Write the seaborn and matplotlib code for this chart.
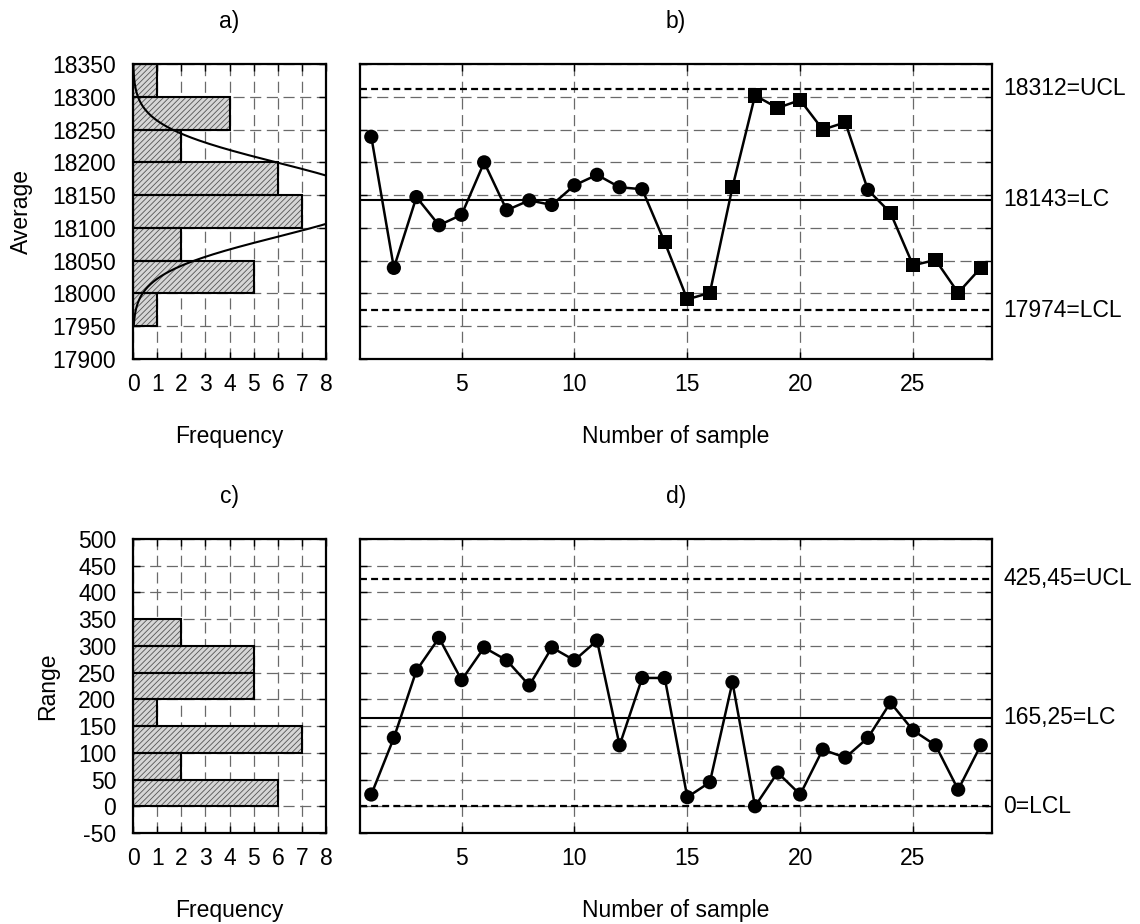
import numpy as np
import pandas as pd
import matplotlib
matplotlib.use('Agg')
import matplotlib.pyplot as plt
import seaborn as sns

# sample numbers and the values
samples = list(range(1, 29))
averages = [18239, 18039, 18147, 18104, 18120, 18200, 18127, 18142, 18135, 18165,
            18181, 18162, 18159, 18078, 17991, 18001, 18162, 18302, 18283, 18295,
            18250, 18261, 18158, 18123, 18043, 18051, 18001, 18039]
avg_marker = ['o', 'o', 'o', 'o', 'o', 'o', 'o', 'o', 'o', 'o',
              'o', 'o', 'o', 's', 's', 's', 's', 's', 's', 's',
              's', 's', 'o', 's', 's', 's', 's', 's']
ranges = [22, 128, 254, 315, 236, 297, 273, 226, 297, 273,
          310, 114, 240, 240, 17, 45, 232, 0, 63, 22,
          106, 91, 128, 194, 142, 114, 31, 114]

# histograms (frequency per class)
avg_edges = [17950, 18000, 18050, 18100, 18150, 18200, 18250, 18300, 18350]
avg_freq = [1, 5, 2, 7, 6, 2, 4, 1]
rng_edges = [0, 50, 100, 150, 200, 250, 300, 350]
rng_freq = [6, 2, 7, 1, 5, 5, 2]

# control limits
avg_ucl, avg_lc, avg_lcl = 18312, 18143, 17974
avg_limit_labels = ['18312=UCL', '18143=LC', '17974=LCL']
rng_ucl, rng_lc, rng_lcl = 425.45, 165.25, 0
rng_limit_labels = ['425,45=UCL', '165,25=LC', '0=LCL']

sns.set_style('ticks')
plt.rcParams['font.family'] = ['Liberation Sans', 'DejaVu Sans']
plt.rcParams['font.size'] = 16.5
plt.rcParams['axes.unicode_minus'] = False
plt.rcParams['hatch.linewidth'] = 0.6
plt.rcParams['lines.scale_dashes'] = False
plt.rcParams['text.color'] = 'black'
plt.rcParams['axes.labelcolor'] = 'black'
plt.rcParams['xtick.color'] = 'black'
plt.rcParams['ytick.color'] = 'black'

FS = 16.5
fig = plt.figure(figsize=(11.4, 9.24), dpi=100)
ax_a = fig.add_axes([0.1167, 0.6115, 0.1693, 0.3192])
ax_b = fig.add_axes([0.3158, 0.6115, 0.5544, 0.3192])
ax_c = fig.add_axes([0.1167, 0.0985, 0.1693, 0.3182])
ax_d = fig.add_axes([0.3158, 0.0985, 0.5544, 0.3182])


def style_axes(ax):
    ax.tick_params(direction='in', length=5, width=1, top=True, right=True,
                   labelsize=FS, colors='black')
    ax.tick_params(axis='y', pad=12)
    ax.tick_params(axis='x', pad=10)
    for s in ax.spines.values():
        s.set_linewidth(1.6)
        s.set_color('black')
    ax.grid(True, color='#6a6a6a', linestyle=(0, (8, 4)), linewidth=0.9)
    ax.set_axisbelow(True)


def draw_hist(ax, edges, freq):
    mids = [(lo + hi) / 2 for lo, hi in zip(edges[:-1], edges[1:])]
    sns.histplot(y=mids, weights=freq, bins=edges, ax=ax, color='#d6d6d6',
                 edgecolor='#555555', linewidth=0, hatch='//////', alpha=1)
    sns.histplot(y=mids, weights=freq, bins=edges, ax=ax, fill=False,
                 color='black', edgecolor='black', linewidth=1.5)


def draw_chart(ax, y, markers, ucl, lc, lcl, labels):
    ax.axhline(ucl, color='black', lw=1.6, linestyle=(0, (5, 3)), zorder=2)
    ax.axhline(lc, color='black', lw=1.5, zorder=2)
    ax.axhline(lcl, color='black', lw=1.6, linestyle=(0, (5, 3)), zorder=2)
    sns.lineplot(x=samples, y=y, ax=ax, color='black', linewidth=1.8,
                 estimator=None, sort=False, zorder=3)
    sns.scatterplot(x=samples, y=y, style=markers, markers={'o': 'o', 's': 's'},
                    color='black', s=105, linewidth=0, legend=False, ax=ax, zorder=4)
    for val, lab in zip([ucl, lc, lcl], labels):
        ax.annotate(lab, xy=(1, val), xycoords=ax.get_yaxis_transform(),
                    xytext=(8, 0), textcoords='offset points', va='center',
                    ha='left', fontsize=FS, annotation_clip=False)
    ax.set_xlim(0.5, 28.5)
    ax.set_xticks([5, 10, 15, 20, 25])


# a) histogram of averages with the normal curve
draw_hist(ax_a, avg_edges, avg_freq)
sigma = (avg_ucl - avg_lc) / 3
yy = np.linspace(17950, 18350, 300)
curve = len(averages) * 50 / (sigma * np.sqrt(2 * np.pi)) * np.exp(-(yy - avg_lc) ** 2 / (2 * sigma ** 2))
sns.lineplot(x=curve, y=yy, ax=ax_a, color='black', linewidth=1.5,
             estimator=None, sort=False, orient='y', zorder=3)
ax_a.set_xlim(0, 8)
ax_a.set_ylim(17900, 18350)
ax_a.set_xticks(range(0, 9))
ax_a.set_yticks(range(17900, 18351, 50))

# b) chart of averages
draw_chart(ax_b, averages, avg_marker, avg_ucl, avg_lc, avg_lcl, avg_limit_labels)
ax_b.set_ylim(17900, 18350)
ax_b.set_yticks(range(17900, 18351, 50))
ax_b.set_yticklabels([])

# c) histogram of ranges
draw_hist(ax_c, rng_edges, rng_freq)
ax_c.set_xlim(0, 8)
ax_c.set_ylim(-50, 500)
ax_c.set_xticks(range(0, 9))
ax_c.set_yticks(range(-50, 501, 50))

# d) chart of ranges
draw_chart(ax_d, ranges, ['o'] * len(ranges), rng_ucl, rng_lc, rng_lcl, rng_limit_labels)
ax_d.set_ylim(-50, 500)
ax_d.set_yticks(range(-50, 501, 50))
ax_d.set_yticklabels([])

for ax, title, xl, yl in [(ax_a, 'a)', 'Frequency', 'Average'),
                          (ax_b, 'b)', 'Number of sample', ''),
                          (ax_c, 'c)', 'Frequency', 'Range'),
                          (ax_d, 'd)', 'Number of sample', '')]:
    style_axes(ax)
    ax.set_title(title, fontsize=FS, pad=26)
    ax.set_xlabel(xl, fontsize=FS, labelpad=21)
    ax.set_ylabel(yl, fontsize=FS, labelpad=14)

fig.savefig('out.png', dpi=100)
